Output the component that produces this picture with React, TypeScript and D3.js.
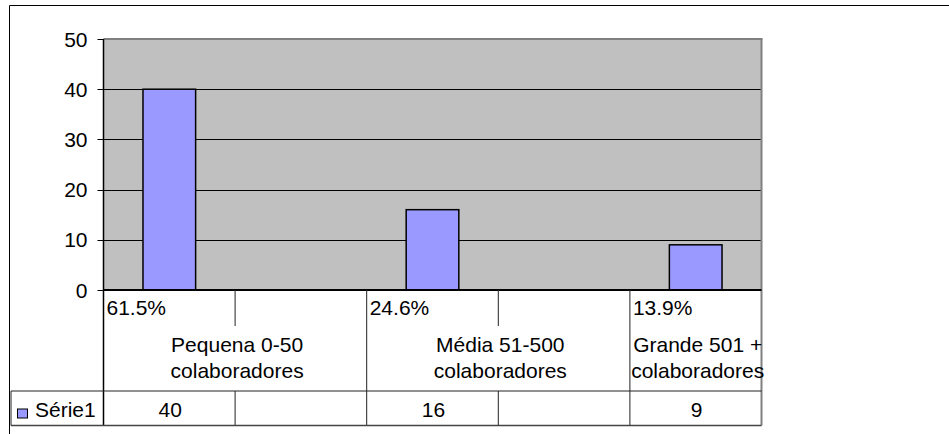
import React from "react";
import * as d3 from "d3";

const columns = ["c1", "c2", "c3", "c4", "c5"];
const percentLabels = ["61.5%", "", "24.6%", "", "13.9%"];
const values: (number | null)[] = [40, null, 16, null, 9];
const groupOfColumn = [0, 0, 1, 1, 2];
const groupLabels = [
  ["Pequena 0-50", "colaboradores"],
  ["Média 51-500", "colaboradores"],
  ["Grande 501 +", "colaboradores"],
];
const seriesName = "Série1";
const yTicks = [0, 10, 20, 30, 40, 50];

const W = 949;
const H = 434;
const plotLeft = 103.5;
const plotRight = 761.5;
const plotTop = 39;
const plotBottom = 290;
const tableMid = 391;
const tableBottom = 425.5;
const tableLeft = 11;
const FONT = "'Liberation Sans', Arial, sans-serif";
const FS = 21;

export default function App() {
  const x = d3
    .scaleBand<string>()
    .domain(columns)
    .range([plotLeft, plotRight])
    .paddingInner(0.6)
    .paddingOuter(0.3);
  const y = d3.scaleLinear().domain([0, 50]).range([plotBottom, plotTop]);
  const step = x.step();
  const colStart = (i: number) => (x(columns[i]) as number) - step * 0.3;
  const colEnd = (i: number) => colStart(i) + step;

  const groups = groupLabels.map((lines, g) => {
    const idx = groupOfColumn
      .map((gg, i) => (gg === g ? i : -1))
      .filter((i) => i >= 0);
    return {
      lines,
      x0: colStart(idx[0]),
      x1: colEnd(idx[idx.length - 1]),
    };
  });

  const lineColor = "#222";

  return (
    <svg
      width={W}
      height={H}
      style={{ position: "absolute", left: 0, top: 0, background: "#fff" }}
      fontFamily={FONT}
    >
      {/* outer frame */}
      <line x1={9.5} y1={5.5} x2={W} y2={5.5} stroke="#000" strokeWidth={1} />
      <line x1={9.5} y1={5.5} x2={9.5} y2={H} stroke="#000" strokeWidth={1} />

      {/* plot background */}
      <rect
        x={plotLeft}
        y={plotTop}
        width={plotRight - plotLeft}
        height={plotBottom - plotTop}
        fill="#C0C0C0"
      />
      {yTicks
        .filter((t) => t > 0 && t < 50)
        .map((t) => (
          <line
            key={"g" + t}
            x1={plotLeft}
            x2={plotRight}
            y1={Math.round(y(t)) + 0.5}
            y2={Math.round(y(t)) + 0.5}
            stroke="#000"
            strokeWidth={1}
          />
        ))}
      <line x1={plotLeft} x2={plotRight + 1} y1={plotTop} y2={plotTop} stroke="#808080" strokeWidth={2} />
      <line x1={plotRight} x2={plotRight} y1={plotTop} y2={tableBottom} stroke="#808080" strokeWidth={2} />

      {/* bars */}
      {values.map((v, i) =>
        v == null ? null : (
          <rect
            key={"b" + i}
            x={x(columns[i])}
            y={y(v)}
            width={x.bandwidth()}
            height={y(0) - y(v)}
            fill="#9999FF"
            stroke="#000"
            strokeWidth={1.5}
          />
        )
      )}

      {/* y axis ticks & labels */}
      {yTicks.map((t) => (
        <g key={"t" + t}>
          <line
            x1={plotLeft - 6}
            x2={plotLeft}
            y1={Math.round(y(t)) + 0.5}
            y2={Math.round(y(t)) + 0.5}
            stroke="#000"
          />
          <text x={87.5} y={y(t) + 7.5} textAnchor="end" fontSize={FS} fill="#000">
            {t}
          </text>
        </g>
      ))}

      <line x1={plotLeft} x2={plotLeft} y1={plotTop} y2={tableBottom} stroke="#000" strokeWidth={1.5} />
      <line x1={plotLeft} x2={plotRight} y1={plotBottom} y2={plotBottom} stroke="#000" strokeWidth={2} />

      {/* category separators */}
      {columns.map((c, i) => {
        if (i === 0) return null;
        const sameGroup = groupOfColumn[i] === groupOfColumn[i - 1];
        return (
          <line
            key={"s" + i}
            x1={colStart(i)}
            x2={colStart(i)}
            y1={plotBottom}
            y2={sameGroup ? 326 : tableBottom}
            stroke={lineColor}
            strokeWidth={1}
          />
        );
      })}
      {columns.map((c, i) => {
        if (i === 0) return null;
        const sameGroup = groupOfColumn[i] === groupOfColumn[i - 1];
        return sameGroup ? (
          <line
            key={"d" + i}
            x1={colStart(i)}
            x2={colStart(i)}
            y1={tableMid}
            y2={tableBottom}
            stroke={lineColor}
            strokeWidth={1}
          />
        ) : null;
      })}

      {/* percent labels */}
      {percentLabels.map((p, i) => (
        <text key={"p" + i} x={colStart(i) + 3} y={315} fontSize={FS} fill="#000">
          {p}
        </text>
      ))}

      {/* group labels */}
      {groups.map((g, k) => (
        <text key={"gl" + k} x={(g.x0 + g.x1) / 2} textAnchor="middle" fontSize={FS} fill="#000">
          <tspan x={(g.x0 + g.x1) / 2 + 2} y={351.5}>
            {g.lines[0]}
          </tspan>
          <tspan x={(g.x0 + g.x1) / 2 + 2} y={377.5}>
            {g.lines[1]}
          </tspan>
        </text>
      ))}

      {/* table lines */}
      <line x1={tableLeft} x2={plotRight} y1={tableMid} y2={tableMid} stroke={lineColor} strokeWidth={1} />
      <line x1={tableLeft} x2={plotRight} y1={tableBottom} y2={tableBottom} stroke="#444" strokeWidth={1.5} />
      <line x1={tableLeft} x2={tableLeft} y1={tableMid} y2={tableBottom} stroke={lineColor} strokeWidth={1} />

      {/* legend key + series name */}
      <rect x={17.5} y={409} width={10} height={9} fill="#9999FF" stroke="#000" strokeWidth={1} />
      <text x={35} y={417} fontSize={FS} fill="#000">
        {seriesName}
      </text>

      {/* data values */}
      {values.map((v, i) =>
        v == null ? null : (
          <text
            key={"v" + i}
            x={(x(columns[i]) as number) + x.bandwidth() / 2 + 1}
            y={417}
            textAnchor="middle"
            fontSize={FS}
            fill="#000"
          >
            {v}
          </text>
        )
      )}
    </svg>
  );
}
